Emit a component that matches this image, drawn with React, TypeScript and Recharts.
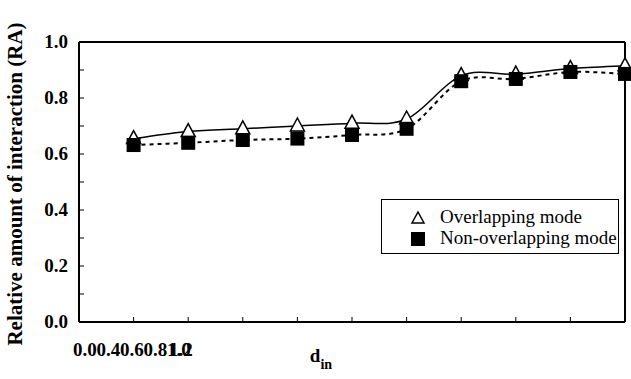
import { useEffect } from "react"
import { LineChart, Line, XAxis, YAxis, ReferenceLine } from "recharts"

const dIn = [0.1, 0.2, 0.3, 0.4, 0.5, 0.6, 0.7, 0.8, 0.9, 1.0]
const overlapping = [0.655, 0.68, 0.69, 0.7, 0.71, 0.725, 0.88, 0.885, 0.905, 0.915]
const nonOverlapping = [0.632, 0.64, 0.65, 0.655, 0.668, 0.69, 0.86, 0.868, 0.893, 0.886]
const yTicks = [0, 0.1, 0.2, 0.3, 0.4, 0.5, 0.6, 0.7, 0.8, 0.9, 1.0]
const xTicks = [0.1, 0.2, 0.3, 0.4, 0.5, 0.6, 0.7, 0.8, 0.9]
const xTickLabels = ["0.0", "0.4", "0.6", "0.8", "1.0", "1.2"]

const data = dIn.map((d, i) => ({
  d,
  over: overlapping[i],
  nonOver: nonOverlapping[i],
}))

const serif = "'Liberation Serif', 'Times New Roman', 'DejaVu Serif', serif"

// Excel-like smoothed line (Catmull-Rom through the points)
function smoothCurve(context: any) {
  let pts: number[][] = []
  return {
    areaStart() {},
    areaEnd() {},
    lineStart() {
      pts = []
    },
    point(x: number, y: number) {
      pts.push([+x, +y])
    },
    lineEnd() {
      if (!pts.length) return
      context.moveTo(pts[0][0], pts[0][1])
      for (let i = 0; i < pts.length - 1; i++) {
        const p0 = pts[i - 1] || pts[i]
        const p1 = pts[i]
        const p2 = pts[i + 1]
        const p3 = pts[i + 2] || p2
        context.bezierCurveTo(
          p1[0] + (p2[0] - p0[0]) / 6,
          p1[1] + (p2[1] - p0[1]) / 6,
          p2[0] - (p3[0] - p1[0]) / 6,
          p2[1] - (p3[1] - p1[1]) / 6,
          p2[0],
          p2[1]
        )
      }
    },
  }
}

const Triangle = ({ cx, cy }: any) => (
  <path
    d={`M${cx},${cy - 8} L${cx + 7},${cy + 5} L${cx - 7},${cy + 5} Z`}
    fill="#fff"
    stroke="#000"
    strokeWidth={1.5}
  />
)

const Square = ({ cx, cy }: any) => (
  <rect x={cx - 7} y={cy - 7} width={14} height={14} fill="#000" />
)

const YTick = ({ x, y, payload }: any) => {
  const v = payload.value
  const major = Math.round(v * 10) % 2 === 0
  return (
    <g>
      <line x1={x} x2={x + 5} y1={y} y2={y} stroke="#000" strokeWidth={1} />
      {major && (
        <text
          x={x - 11}
          y={y + 6}
          textAnchor="end"
          style={{ fontFamily: serif }}
          fontWeight="bold"
          fontSize={19}
          fill="#000"
        >
          {v.toFixed(1)}
        </text>
      )}
    </g>
  )
}

const XTick = ({ x, y }: any) => (
  <line x1={x} x2={x} y1={y} y2={y - 5} stroke="#000" strokeWidth={1} />
)

const XLabels = () => (
  <g style={{ fontFamily: serif }} fontWeight="bold" fill="#000">
    {xTickLabels.map((t, i) => (
      <text key={i} x={73 + Math.min(i, 4) * 23.5 + (i === 5 ? 2 : 0)} y={356} fontSize={19}>
        {t}
      </text>
    ))}
    <text x={321} y={362} fontSize={19} textAnchor="middle">
      d<tspan fontSize={14} dy={7}>in</tspan>
    </text>
  </g>
)

const LegendBox = () => (
  <div
    style={{
      position: "absolute",
      left: 381,
      top: 199,
      width: 236,
      height: 53,
      border: "1.5px solid #000",
      background: "#fff",
      fontFamily: serif,
      fontSize: 19,
      color: "#000",
    }}
  >
    <svg width={30} height={53} style={{ position: "absolute", left: 25, top: 0 }}>
      <path d="M11,12 L17,23 L5,23 Z" fill="#fff" stroke="#000" strokeWidth={1.5} />
      <rect x={4} y={32} width={14} height={14} fill="#000" />
    </svg>
    <div style={{ position: "absolute", left: 58, top: 6, lineHeight: "22px", whiteSpace: "nowrap" }}>
      Overlapping mode
    </div>
    <div style={{ position: "absolute", left: 58, top: 27, lineHeight: "22px", whiteSpace: "nowrap" }}>
      Non-overlapping mode
    </div>
  </div>
)

export default function App() {
  useEffect(() => {
    document.body.style.margin = "0"
  }, [])

  return (
    <div style={{ width: 631, height: 379, background: "#fff", position: "relative" }}>
      <LineChart
        width={631}
        height={379}
        data={data}
        margin={{ top: 42, right: 6, left: 0, bottom: 0 }}
      >
        <XAxis
          dataKey="d"
          type="number"
          domain={[0, 1]}
          ticks={xTicks}
          tick={<XTick />}
          tickLine={false}
          tickSize={0}
          tickMargin={0}
          height={57}
          axisLine={{ stroke: "#000", strokeWidth: 2 }}
          label={{ content: () => <XLabels /> }}
        />
        <YAxis
          domain={[0, 1]}
          ticks={yTicks}
          tick={<YTick />}
          tickLine={false}
          tickSize={0}
          tickMargin={0}
          width={79}
          axisLine={{ stroke: "#000", strokeWidth: 2 }}
          interval={0}
          label={{
            content: () => (
              <text
                x={22}
                y={184}
                transform="rotate(-90 22 184)"
                textAnchor="middle"
                style={{ fontFamily: serif }}
                fontWeight="bold"
                fontSize={21}
                fill="#000"
              >
                Relative amount of interaction (RA)
              </text>
            ),
          }}
        />
        <ReferenceLine y={1} stroke="#000" strokeWidth={2} />
        <ReferenceLine x={1} stroke="#000" strokeWidth={2} />
        <Line
          dataKey="over"
          type={smoothCurve as any}
          stroke="#000"
          strokeWidth={1.5}
          dot={<Triangle />}
          activeDot={false}
          isAnimationActive={false}
        />
        <Line
          dataKey="nonOver"
          type={smoothCurve as any}
          stroke="#000"
          strokeWidth={2}
          strokeDasharray="4 4"
          dot={<Square />}
          activeDot={false}
          isAnimationActive={false}
        />
      </LineChart>
      <LegendBox />
    </div>
  )
}
